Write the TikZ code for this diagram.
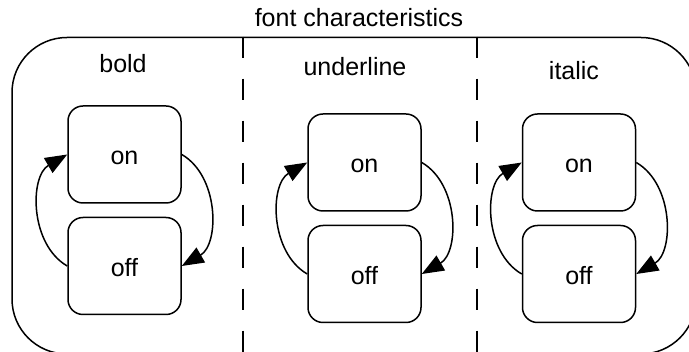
\documentclass[tikz,border=0pt]{standalone}
\usepackage{fontspec}
\setmainfont{Liberation Sans}
\usetikzlibrary{arrows.meta}
\begin{document}
\begin{tikzpicture}[x=1pt,y=-1pt,
  every node/.style={font=\fontsize{25}{30}\selectfont},
  outerbox/.style={draw, line width=1.5pt, rounded corners=55pt, inner sep=0pt,
    minimum width=684pt, minimum height=316.5pt},
  statebox/.style={draw, line width=1.5pt, rounded corners=15pt, inner sep=0pt,
    minimum width=113pt, minimum height=97pt, text height=21pt, text depth=0pt},
  trans/.style={line width=1.5pt, -{Triangle[length=22pt,width=17pt]}},
  region/.style={line width=1.3pt, dash pattern=on 21pt off 21pt},
  lbl/.style={anchor=base},
]
\useasboundingbox (0,0) rectangle (689,352);
\begin{scope}
\clip (0,0) rectangle (689,352);

% outer composite state and its title
\node[outerbox] (outer) at (354,195.75) {};
\node[lbl] (title) at (359,27) {font characteristics};

% concurrent region separators
\coordinate (sep1) at (243,0);
\coordinate (sep2) at (477,0);
\draw[region] (outer.north -| sep1) -- (outer.south -| sep1);
\draw[region] (outer.north -| sep2) -- (outer.south -| sep2);

% region: bold
\node[lbl] (boldlbl) at (123,73) {bold};
\node[statebox] (boldon)  at (124.5,154.5) {on};
\node[statebox] (boldoff) at (124.5,266) {off};
\draw[trans] (boldoff.west) to[bend left=60] (boldon.west);
\draw[trans] (boldon.east) to[bend left=60] (boldoff.east);

% region: underline
\node[lbl] (ullbl) at (355,76) {underline};
\node[statebox] (ulon)  at (364.5,162.5) {on};
\node[statebox] (uloff) at (364.5,274) {off};
\draw[trans] (uloff.west) to[bend left=60] (ulon.west);
\draw[trans] (ulon.east) to[bend left=60] (uloff.east);

% region: italic
\node[lbl] (itlbl) at (574,80) {italic};
\node[statebox] (iton)  at (579,162.5) {on};
\node[statebox] (itoff) at (579,274) {off};
\draw[trans] (itoff.west) to[bend left=60] (iton.west);
\draw[trans] (iton.east) to[bend left=60] (itoff.east);
\end{scope}
\end{tikzpicture}
\end{document}
